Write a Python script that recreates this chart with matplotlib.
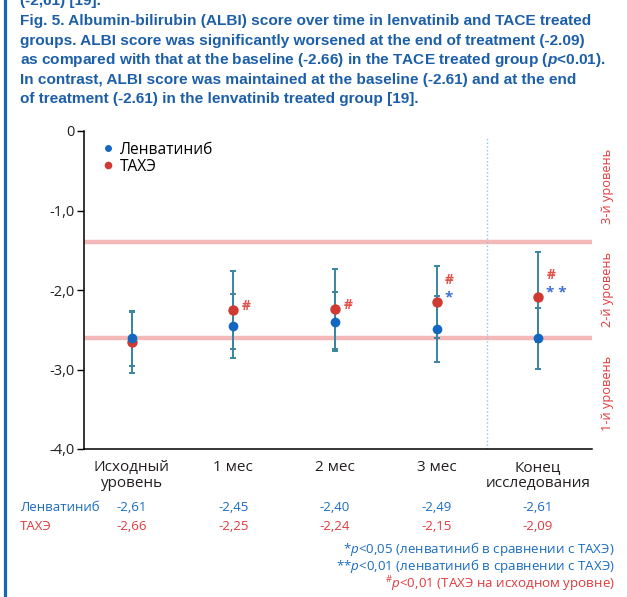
import numpy as np
import matplotlib.pyplot as plt
from matplotlib.lines import Line2D

plt.rcParams['font.family'] = ['Open Sans', 'DejaVu Sans']
plt.rcParams['mathtext.fontset'] = 'custom'
plt.rcParams['mathtext.rm'] = 'Open Sans'
plt.rcParams['mathtext.it'] = 'Open Sans:italic'
plt.rcParams['mathtext.bfit'] = 'Liberation Sans:italic:bold'

# --- Data ---
categories = ['Исходный\nуровень', '1 мес', '2 мес', '3 мес', 'Конец\nисследования']
lenv_mean = [-2.61, -2.45, -2.40, -2.49, -2.61]
tace_mean = [-2.66, -2.25, -2.24, -2.15, -2.09]
lenv_err = [0.35, 0.40, 0.37, 0.42, 0.38]
tace_err = [0.38, 0.49, 0.50, 0.45, 0.57]
lenv_sig = ['', '', '', '*', '* *']
tace_sig = ['', '#', '#', '#', '#']
albi_cutoffs = [-2.60, -1.39]
grade_labels = ['1-й уровень', '2-й уровень', '3-й уровень']
series_names = ['Ленватиниб', 'ТАХЭ']

title_lines = [
    '(-2,61) [19].',
    'Fig. 5. Albumin-bilirubin (ALBI) score over time in lenvatinib and TACE treated',
    'groups. ALBI score was significantly worsened at the end of treatment (-2.09)',
    'as compared with that at the baseline (-2.66) in the TACE treated group ($\\mathbfit{p}$<0.01).',
    'In contrast, ALBI score was maintained at the baseline (-2.61) and at the end',
    'of treatment (-2.61) in the lenvatinib treated group [19].',
]
footnotes = [
    '*$p$<0,05 (ленватиниб в сравнении с ТАХЭ)',
    '**$p$<0,01 (ленватиниб в сравнении с ТАХЭ)',
    '${}^{\\#}p$<0,01 (ТАХЭ на исходном уровне)',
]

BLUE = '#1a6cc0'
RED = '#e03a3c'
TITLE_BLUE = '#1c5fa8'
ERR = '#3a86a0'

W, H = 627, 597
fig = plt.figure(figsize=(W / 100, H / 100), dpi=100)
ax = fig.add_axes([84 / W, (H - 449) / H, (592 - 84) / W, (449 - 131) / H])

x = np.arange(len(categories))

# --- Left border bar ---
fig.add_artist(Line2D([4.5 / W, 4.5 / W], [0, 1], color='#1565b5', lw=2.3))

# --- Title block (font size fitted so the widest line spans the text block) ---
title_texts = []
for i, line in enumerate(title_lines):
    t = fig.text(20 / W, 1 - (19.6 * i + 1.5) / H, line, fontsize=11, fontweight='bold',
                 color=TITLE_BLUE, family=['Liberation Sans', 'DejaVu Sans'],
                 va='center', ha='left')
    title_texts.append(t)
renderer = fig.canvas.get_renderer()
widest = max(t.get_window_extent(renderer).width for t in title_texts)
for t in title_texts:
    t.set_fontsize(11 * 583 / widest)

# --- Grade cutoffs and divider ---
for c in albi_cutoffs:
    ax.axhline(c, color='#f29b9b', lw=3.2, alpha=0.7, zorder=1)
ax.axvline(3.5, ymax=0.98, color='#8cc6e6', lw=1.0, ls=':', zorder=1)

# --- Error bars and points ---
ax.errorbar(x, tace_mean, yerr=tace_err, fmt='none', ecolor=ERR, elinewidth=1.4,
            capsize=2, capthick=1.4, zorder=2)
ax.errorbar(x, lenv_mean, yerr=lenv_err, fmt='none', ecolor=ERR, elinewidth=1.4,
            capsize=2, capthick=1.4, zorder=2)
ax.plot(x, tace_mean, 'o', color='#cf3a32', ms=7.5, mec='none', zorder=3)
ax.plot(x, lenv_mean, 'o', color='#1268c0', ms=7, mec='none', zorder=4)

# --- Significance marks ---
for i in x:
    row = 0
    if lenv_sig[i]:
        ax.annotate(lenv_sig[i], xy=(i, tace_mean[i]), xytext=(6, 4),
                    textcoords='offset points', ha='left', va='center_baseline',
                    color='#3f6fd0', fontsize=11, fontweight='bold', zorder=5)
        row = 1
    if tace_sig[i]:
        ax.annotate(tace_sig[i], xy=(i, tace_mean[i]), xytext=(6, 4 + 13 * row),
                    textcoords='offset points', ha='left', va='center_baseline',
                    color='#e0524a', fontsize=10, fontweight='bold', zorder=5)

# --- Legend ---
handles = [Line2D([], [], marker='o', ls='none', color='#1268c0', ms=5, mec='none'),
           Line2D([], [], marker='o', ls='none', color='#cf3a32', ms=5.5, mec='none')]
ax.legend(handles, series_names, loc='upper left', bbox_to_anchor=(0.01, 1.0),
          frameon=False, fontsize=11.2, handletextpad=0.3, labelspacing=0.05,
          handlelength=1.0, borderpad=0.2)

# --- Axes styling ---
ax.set_xlim(-0.47, 4.53)
ax.set_ylim(-4.0, 0)
ax.set_yticks([0, -1, -2, -3, -4])
ax.set_yticklabels(['0', '-1,0', '-2,0', '-3,0', '-4,0'], fontsize=10.5, color='#231f20')
ax.set_xticks(x)
ax.set_xticklabels(categories, fontsize=11, color='#231f20', linespacing=1.05)
ax.tick_params(axis='x', length=0, pad=8)
ax.tick_params(axis='y', length=5, width=1, pad=2)
for s in ['top', 'right']:
    ax.spines[s].set_visible(False)
ax.spines['left'].set_linewidth(1.1)
ax.spines['bottom'].set_linewidth(1.1)

# --- Grade labels on the right ---
bounds = [-4.0] + albi_cutoffs + [0.0]
for k, lab in enumerate(grade_labels):
    mid = (bounds[k] + bounds[k + 1]) / 2
    ax.text(4.685, mid, lab, rotation=90, ha='center', va='center', color=RED,
            fontsize=9.2, clip_on=False)

# --- Value table below ---
row_y = [-4.74, -4.97]
for name, vals, col, yy in zip(series_names, [lenv_mean, tace_mean], [BLUE, RED], row_y):
    ax.text(-1.10, yy, name, ha='left', va='center', color=col, fontsize=9.5, clip_on=False)
    for i, v in enumerate(vals):
        ax.text(i, yy, f'{v:.2f}'.replace('.', ','), ha='center', va='center', color=col,
                fontsize=9.5, clip_on=False)

# --- Footnotes ---
for k, (txt, col) in enumerate(zip(footnotes, [BLUE, BLUE, RED])):
    fig.text(615 / W, 1 - (549 + 16.8 * k + (1.5 if k == 2 else 0)) / H, txt,
             ha='right', va='center', color=col, fontsize=9.6)

plt.savefig('out.png', dpi=100)
